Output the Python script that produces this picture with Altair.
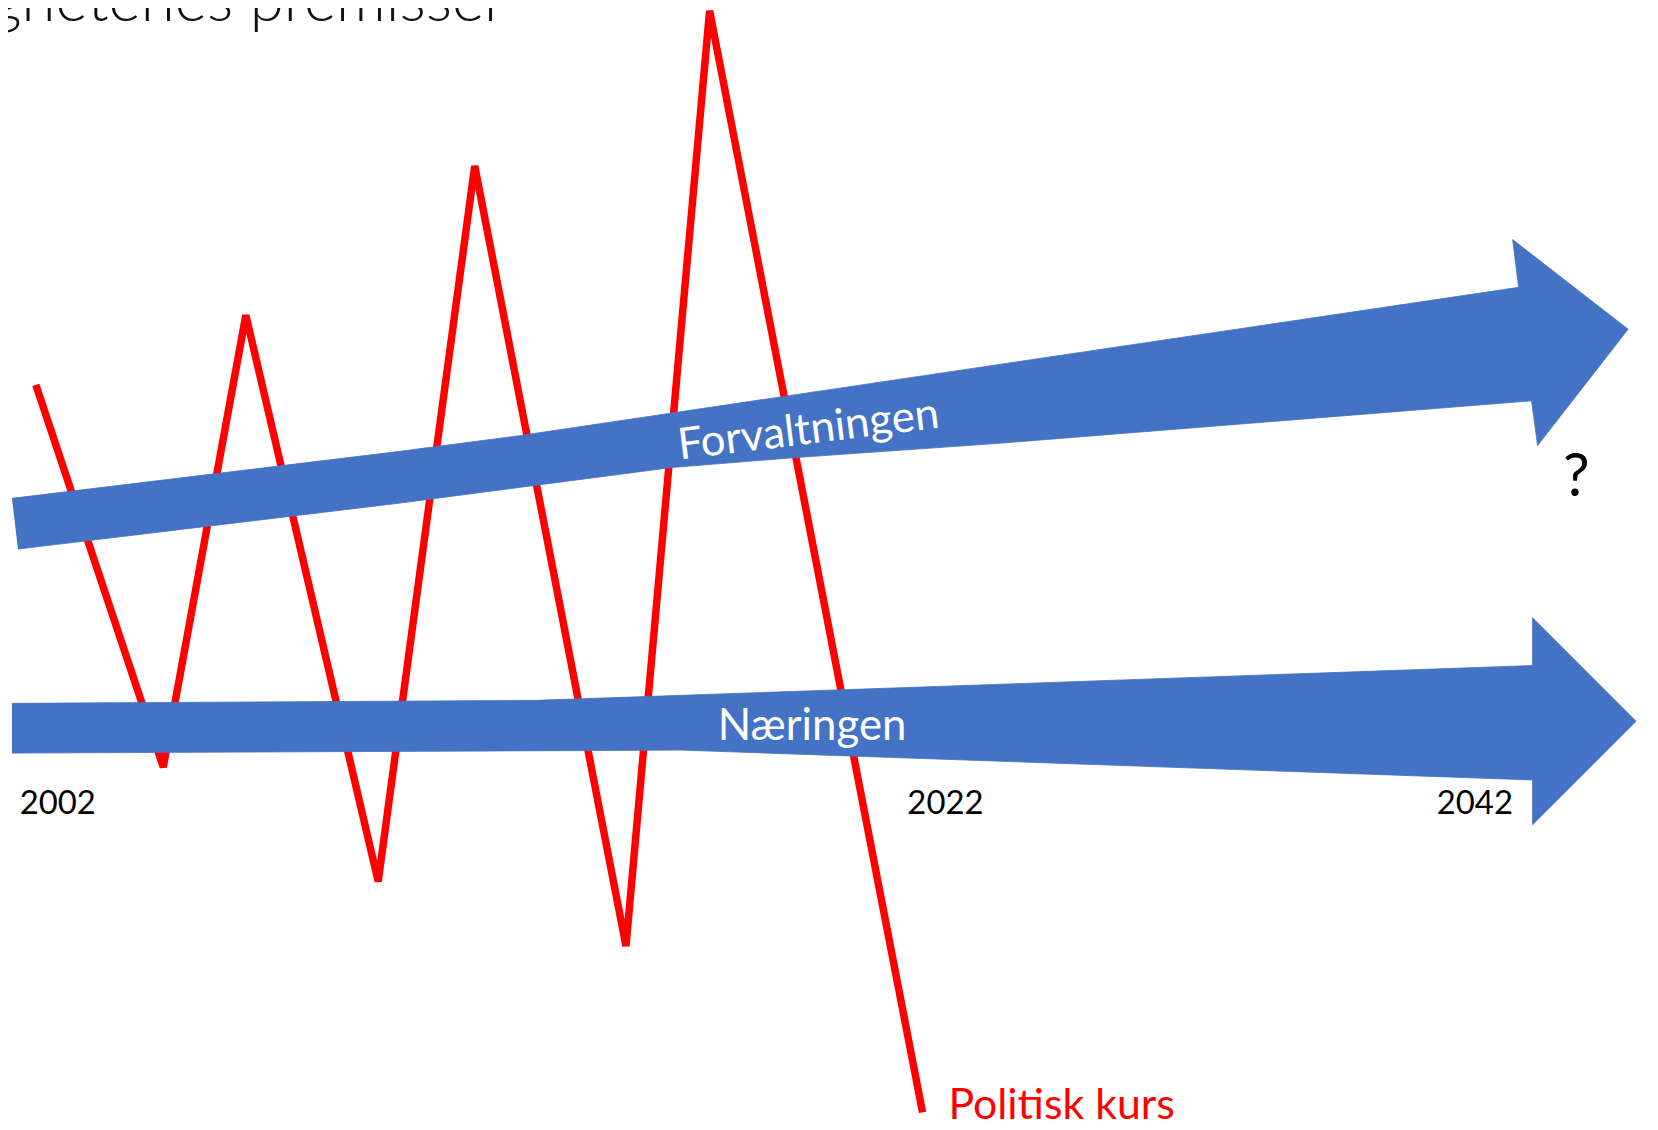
import altair as alt
import pandas as pd

# Red zig-zag ("Politisk kurs"), screen-like coordinates
red_x = [36, 164, 247, 380, 477, 629, 713, 927]
red_y = [384, 768, 314, 883, 164, 948, 8, 1115]

# Upper block arrow ("Forvaltningen") outline
forv_x = [12, 400, 522, 1526, 1520, 1636, 1545, 1539, 1000, 800, 675, 400, 18]
forv_y = [498, 451, 435, 286, 238, 328, 445, 400, 443, 457, 467, 503, 549]

# Lower block arrow ("Næringen") outline
naer_x = [12, 538, 1000, 1540, 1540, 1644, 1540, 1540, 1000, 685, 12]
naer_y = [704, 701, 685, 666, 618, 722, 826, 781, 762, 751, 754]

# Year labels
year_labels = ["2002", "2022", "2042"]
year_x = [58, 950, 1482]
year_y = [815, 815, 815]

title_text = "gnetenes premisser"
BLUE = "#4472C4"
RED = "#FF0000"
FONT = "Lato"

red_df = pd.DataFrame({"x": red_x, "y": red_y, "i": list(range(len(red_x)))})
arrows_df = pd.concat([
    pd.DataFrame({"x": forv_x, "y": forv_y, "i": list(range(len(forv_x))), "shape": "Forvaltningen"}),
    pd.DataFrame({"x": naer_x, "y": naer_y, "i": list(range(len(naer_x))), "shape": "Næringen"}),
])
years_df = pd.DataFrame({"x": year_x, "y": year_y, "t": year_labels})

xs = alt.Scale(domain=[8, 1658], nice=False, zero=False)
ys = alt.Scale(domain=[8, 1130], nice=False, zero=False, reverse=True)
X = alt.X("x:Q", scale=xs, axis=None)
Y = alt.Y("y:Q", scale=ys, axis=None)

red_line = alt.Chart(red_df).mark_line(
    color=RED, strokeWidth=7.5, strokeCap="butt", strokeJoin="miter", strokeMiterLimit=1
).encode(x=X, y=Y, order="i:Q")

arrows = alt.Chart(arrows_df).mark_line(
    fill=BLUE, stroke=BLUE, strokeWidth=0.8, strokeJoin="miter"
).encode(x=X, y=Y, order="i:Q", detail="shape:N")

def label(df, **kw):
    return alt.Chart(df).mark_text(font=FONT, **kw).encode(x=X, y=Y, text="t:N")

forv_lbl = label(pd.DataFrame({"x": [814], "y": [443], "t": ["Forvaltningen"]}),
                 fontSize=44, color="white", align="center", baseline="alphabetic", angle=353)
naer_lbl = label(pd.DataFrame({"x": [816], "y": [741], "t": ["Næringen"]}),
                 fontSize=44, color="white", align="center", baseline="alphabetic")
years = label(years_df, fontSize=33, color="black", align="center", baseline="alphabetic")
qmark = label(pd.DataFrame({"x": [1584], "y": [496], "t": ["?"]}),
              fontSize=60, color="black", align="center", baseline="alphabetic")
pol_lbl = label(pd.DataFrame({"x": [953], "y": [1122], "t": ["Politisk kurs"]}),
                fontSize=43, color=RED, align="left", baseline="alphabetic")
title = label(pd.DataFrame({"x": [-10], "y": [18], "t": [title_text]}),
              fontSize=62, fontWeight=300, color="#111111", align="left", baseline="alphabetic")

chart = alt.layer(
    red_line, arrows, forv_lbl, naer_lbl, years, qmark, pol_lbl, title
).properties(
    width=1650, height=1122,
    autosize=alt.AutoSizeParams(type="none"),
    padding=0,
    background="white",
).configure_view(stroke=None)

chart.save("out.html", embed_options={"renderer": "svg", "actions": False})
